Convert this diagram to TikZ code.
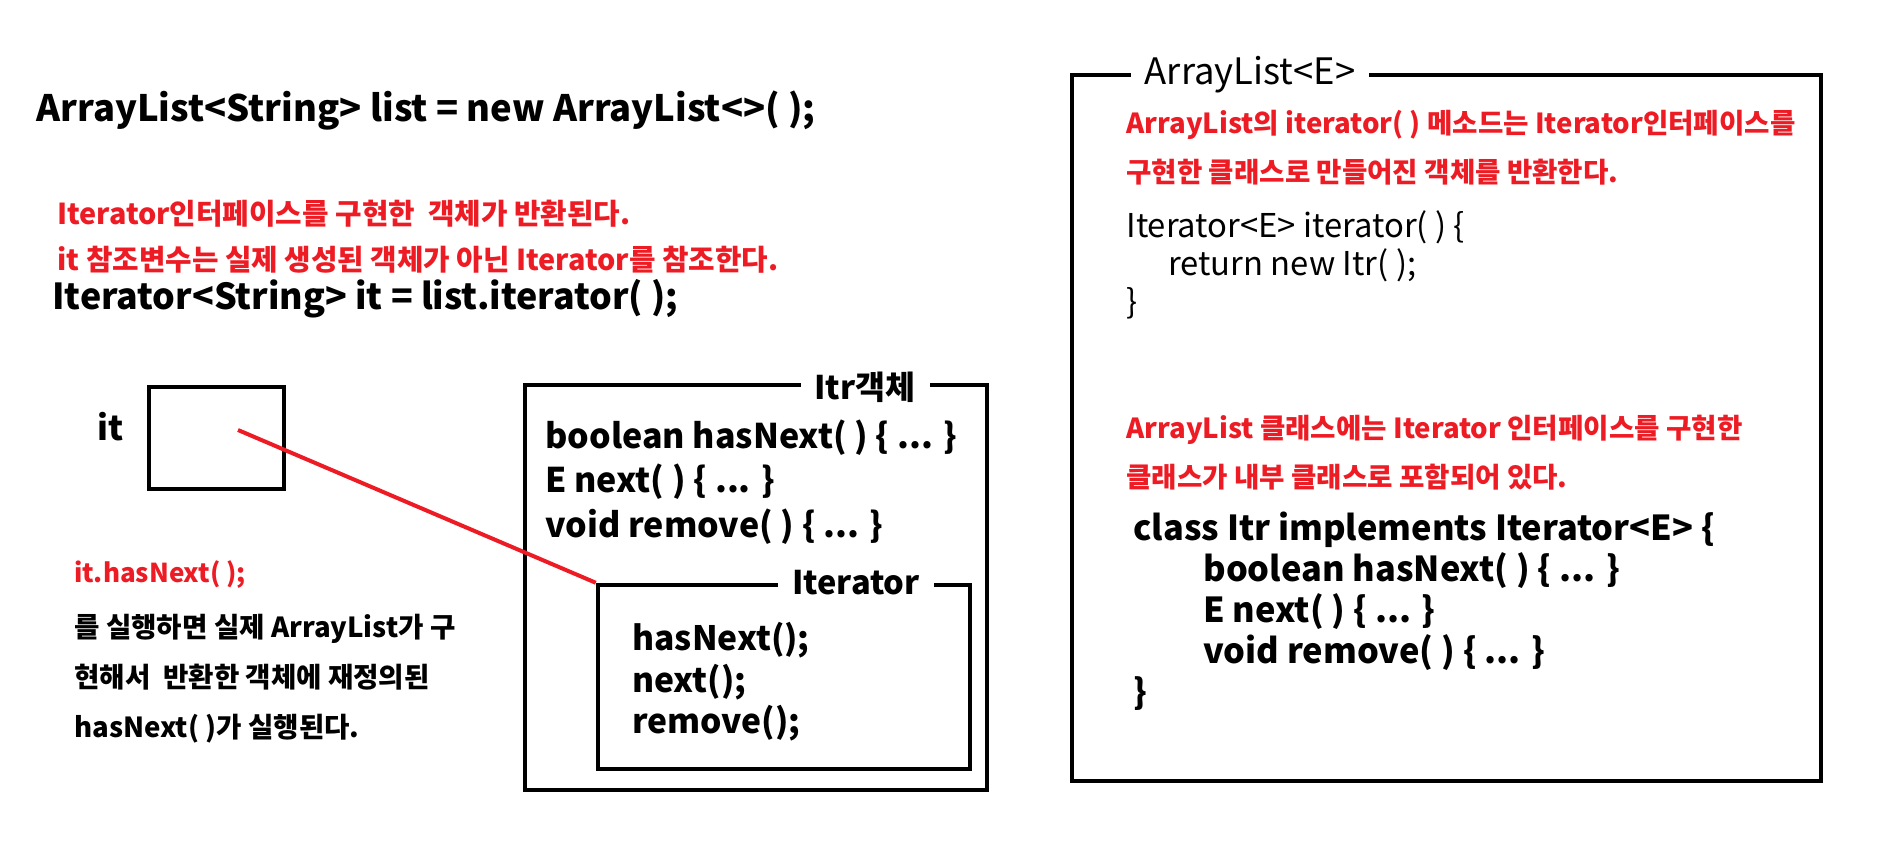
\documentclass[tikz,border=0pt]{standalone}
\usepackage{fontspec}
\setmainfont{Noto Sans CJK KR}
\usetikzlibrary{positioning}
\definecolor{notered}{HTML}{ED1C24}

\begin{document}
\begin{tikzpicture}[x=0.5pt, y=-0.5pt,
  bigcode/.style={anchor=west, inner sep=0pt, font=\fontsize{18.2}{22}\selectfont\bfseries},
  note/.style={anchor=west, inner sep=0pt, text=notered, font=\fontsize{14.4}{16}\selectfont\bfseries},
  sidenote/.style={note, font=\fontsize{13.8}{16}\selectfont\bfseries},
  explain/.style={anchor=west, inner sep=0pt, align=left, font=\fontsize{13.8}{25}\selectfont\bfseries},
  boxcode/.style={anchor=west, inner sep=0pt, align=left, font=\fontsize{17}{22.25}\selectfont\bfseries},
  ifacecode/.style={anchor=west, inner sep=0pt, align=left, font=\fontsize{16.8}{20.75}\selectfont\bfseries},
  methodcode/.style={anchor=west, inner sep=0pt, align=left, font=\fontsize{16.4}{19}\selectfont},
  classcode/.style={anchor=west, inner sep=0pt, align=left, font=\fontsize{17.2}{20.5}\selectfont\bfseries},
  boxtitle/.style={fill=white, inner xsep=7pt, inner ysep=1pt, font=\fontsize{16.3}{18}\selectfont\bfseries},
  framebox/.style={draw, line width=2.25pt, inner sep=0pt},
  refline/.style={notered, line width=2pt},
]
  \useasboundingbox (0,0) rectangle (1898,840);

  % Left: declarations
  \node[bigcode] (decl) at (36,111) {ArrayList<String> list = new ArrayList<>( );};
  \node[note] (note1) at (57,214) {Iterator인터페이스를 구현한~~객체가 반환된다.};
  \node[note] (note2) at (57,260) {it 참조변수는 실제 생성된 객체가 아닌 Iterator를 참조한다.};
  \node[bigcode, font=\fontsize{17.9}{22}\selectfont\bfseries] (assign) at (52,299) {Iterator<String> it = list.iterator( );};

  % Reference variable it
  \node[framebox, minimum width=67.5pt, minimum height=51pt] (itbox) at (216.5,438) {};
  \node[bigcode, font=\fontsize{17}{20}\selectfont\bfseries] (itlabel) at (97,427) {it};
  \coordinate (ref) at (238,430);

  % Itr object
  \node[framebox, minimum width=231pt, minimum height=202.5pt] (itrobj) at (756,587.5) {};
  \node[boxtitle] (itrtitle) at (865,387) {Itr객체};
  \node[boxcode] (itrcode) at (545,482) {boolean hasNext( ) \{ ... \}\\E next( ) \{ ... \}\\void remove( ) \{ ... \}};
  \node[framebox, minimum width=186pt, minimum height=92pt] (iterbox) at (784,677) {};
  \node[boxtitle] (itertitle) at (856,583) {Iterator};
  \node[ifacecode] (itercode) at (632,682) {hasNext();\\next();\\remove();};

  \draw[refline] (ref) -- (iterbox.north west);

  % Explanation of the call
  \node[note, font=\fontsize{13}{16}\selectfont\bfseries] (callnote) at (74,575) {it.hasNext( );};
  \node[explain] (callexplain) at (74,679) {를 실행하면 실제 ArrayList가 구\\현해서~~반환한 객체에 재정의된\\hasNext( )가 실행된다.};

  % Right: ArrayList class
  \node[framebox, minimum width=374.5pt, minimum height=353pt] (listcls) at (1446.5,428) {};
  \node[boxtitle, font=\fontsize{18.2}{20}\selectfont] (listtitle) at (1250,75) {ArrayList<E>};
  \node[sidenote] (note3) at (1126,125) {ArrayList의 iterator( ) 메소드는 Iterator인터페이스를};
  \node[sidenote] (note4) at (1126,172) {구현한 클래스로 만들어진 객체를 반환한다.};
  \node[methodcode] (itermethod) at (1126,265) {Iterator<E> iterator( ) \{\\\hspace*{21pt}return new Itr( );\\\}};
  \node[sidenote] (note5) at (1126,430) {ArrayList 클래스에는 Iterator 인터페이스를 구현한};
  \node[sidenote] (note6) at (1126,477) {클래스가 내부 클래스로 포함되어 있다.};
  \node[classcode] (innercls) at (1133,611) {class Itr implements Iterator<E> \{\\\hspace*{35pt}boolean hasNext( ) \{ ... \}\\\hspace*{35pt}E next( ) \{ ... \}\\\hspace*{35pt}void remove( ) \{ ... \}\\\}};
\end{tikzpicture}
\end{document}
